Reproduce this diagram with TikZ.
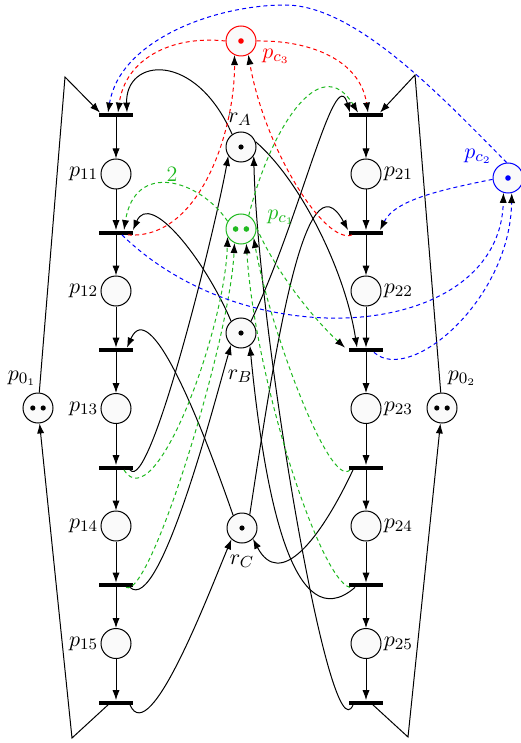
\documentclass[tikz,border=0pt]{standalone}
\usetikzlibrary{arrows.meta}
\definecolor{cg}{RGB}{30,185,30}
\definecolor{cr}{RGB}{255,0,0}
\definecolor{cb}{RGB}{0,0,255}
\begin{document}
\begin{tikzpicture}[x=0.5pt,y=-0.5pt,
 place/.style={circle,draw=black,fill=black!2,minimum size=15pt,inner sep=0pt,line width=0.5pt},
 trans/.style={rectangle,fill=black,minimum width=17pt,minimum height=2pt,inner sep=0pt},
 flow/.style={-{Latex[length=5pt,width=3.6pt,color=black]},line width=0.5pt,draw=black},
 ctl/.style={flow,dash pattern=on 2pt off 1.6pt},
 garc/.style={ctl,draw=cg},
 rarc/.style={ctl,draw=cr},
 barc/.style={ctl,draw=cb},
 lab/.style={inner sep=1pt,font=\fontsize{11pt}{13pt}\selectfont},
]
\useasboundingbox (0,0) rectangle (520,743);

% transitions
\foreach \i/\y in {1/115,2/232.5,3/350,4/467.5,5/585,6/702.5}{
  \node[trans] (t1\i) at (116,\y) {};
  \node[trans] (t2\i) at (366,\y) {};
}
% places
\foreach \i/\y in {1/174,2/291,3/408.5,4/526,5/643.5}{
  \node[place,label={[lab]left:$p_{1\i}$}] (p1\i) at (116,\y) {};
  \node[place,label={[lab]right:$p_{2\i}$}] (p2\i) at (366,\y) {};
}
\node[place] (p01) at (38,408) {};
\node[place] (p02) at (442,408) {};
\node[place] (rA) at (241,147) {};
\node[place] (rB) at (241,333) {};
\node[place] (rC) at (242,528) {};
\node[place,draw=cg] (pc1) at (241,229) {};
\node[place,draw=cr] (pc3) at (241,41) {};
\node[place,draw=cb] (pc2) at (508,178) {};

% tokens
\fill ([xshift=-2.6pt]p01.center) circle (1.3pt) ([xshift=2.6pt]p01.center) circle (1.3pt);
\fill ([xshift=-2.6pt]p02.center) circle (1.3pt) ([xshift=2.6pt]p02.center) circle (1.3pt);
\fill (rA.center) circle (1.3pt) (rB.center) circle (1.3pt) (rC.center) circle (1.3pt);
\fill[cg] ([xshift=-2.7pt]pc1.center) circle (1.4pt) ([xshift=2.7pt]pc1.center) circle (1.4pt);
\fill[cr] (pc3.center) circle (1.4pt);
\fill[cb] (pc2.center) circle (1.4pt);

% sequential arcs
\foreach \i/\j in {1/2,2/3,3/4,4/5,5/6}{
  \draw[flow] (t1\i) -- (p1\i);
  \draw[flow] (p1\i) -- (t1\j);
  \draw[flow] (t2\i) -- (p2\i);
  \draw[flow] (p2\i) -- (t2\j);
}

% idle place loops
\coordinate (c1) at (72,738);
\coordinate (c2) at (65,77);
\coordinate (c3) at (408,737);
\coordinate (c4) at (415,75);
\draw[flow] ([xshift=-4pt]t16.south) -- (c1) -- (p01);
\draw[flow] (p01) -- (c2) -- ([xshift=-8pt]t11.north);
\draw[flow] ([xshift=3.5pt]t26.south) -- (c3) -- (p02);
\draw[flow] (p02) -- (c4) -- ([xshift=7pt]t21.north);

% resource arcs, process 1
\draw[flow] (rA.125) .. controls (195,50) and (125,58) .. ([xshift=5.5pt]t11.north);
\draw[flow] (rB.130) .. controls (205,260) and (150,190) .. ([xshift=8.5pt]t12.north);
\draw[flow] (rC.125) .. controls (200,420) and (150,295) .. ([xshift=5.5pt]t13.north);
\draw[flow] ([xshift=7pt]t14.south) .. controls (150,495) and (215,230) .. (rA.215);
\draw[flow] ([xshift=7pt]t15.south) .. controls (160,615) and (215,400) .. (rB.230);
\draw[flow] ([xshift=7pt]t16.south) .. controls (150,750) and (210,590) .. (rC.227);

% resource arcs, process 2
\draw[flow] (rB.50) .. controls (300,220) and (335,60) .. ([xshift=-8pt]t21.north);
\draw[flow] (rC.60) .. controls (275,350) and (305,150) .. ([xshift=-9pt]t22.north);
\draw[flow] (rA.20) .. controls (300,180) and (345,270) .. ([xshift=-4.5pt]t23.north);
\draw[flow] ([xshift=-6.5pt]t24.south) .. controls (320,540) and (280,590) .. (rC.315);
\draw[flow] ([xshift=-5.5pt]t25.south) .. controls (294,640) and (265,500) .. (rB.305);
\draw[flow] ([xshift=-6.5pt]t26.south) .. controls (330,760) and (258,330) .. (rA.325);

% control place pc1 (green)
\draw[garc] (pc1.150) .. controls (200,180) and (135,160) .. ([xshift=4pt]t12.north);
\draw[garc] (pc1.60) .. controls (270,130) and (320,50) .. ([xshift=-4pt]t21.north);
\draw[garc] (pc1.5) .. controls (280,280) and (320,325) .. ([xshift=-10.5pt]t23.north);
\draw[garc] ([xshift=4pt]t14.south) .. controls (155,520) and (225,330) .. (pc1.210);
\draw[garc] ([xshift=5pt]t15.south) .. controls (150,600) and (230,340) .. (pc1.245);
\draw[garc] ([xshift=-8pt]t24.south) .. controls (330,490) and (270,330) .. (pc1.325);
\draw[garc] ([xshift=-8pt]t25.south) .. controls (320,580) and (255,380) .. (pc1.290);

% control place pc3 (red)
\draw[rarc] (pc3.180) .. controls (170,35) and (125,60) .. ([xshift=1pt]t11.north);
\draw[rarc] (pc3.0) .. controls (310,40) and (360,60) .. ([xshift=1pt]t21.north);
\draw[rarc] ([xshift=6pt]t12.south) .. controls (200,240) and (235,130) .. (pc3.245);
\draw[rarc] ([xshift=-7pt]t22.south) .. controls (325,245) and (265,150) .. (pc3.298);

% control place pc2 (blue)
\draw[barc] (pc2.95) .. controls (440,95) and (355,5) .. (285,5) .. controls (215,5) and (120,40) .. ([xshift=-4pt]t11.north);
\draw[barc] (pc2.185) .. controls (440,190) and (395,200) .. ([xshift=7pt]t22.north);
\draw[barc] ([xshift=3pt]t12.south) .. controls (250,360) and (500,340) .. (pc2.253);
\draw[barc] ([xshift=4pt]t23.south) .. controls (410,385) and (510,300) .. (pc2.284);

% labels
\node[lab] at (22,378) {$p_{0_1}$};
\node[lab] at (462,378) {$p_{0_2}$};
\node[lab] at (240,119) {$r_A$};
\node[lab] at (240,376) {$r_B$};
\node[lab] at (242,561) {$r_C$};
\node[lab,text=cg] at (281,217) {$p_{c_1}$};
\node[lab,text=cr] at (276,56) {$p_{c_3}$};
\node[lab,text=cb] at (478,156) {$p_{c_2}$};
\node[lab,text=cg] at (172,174) {2};
\end{tikzpicture}
\end{document}
